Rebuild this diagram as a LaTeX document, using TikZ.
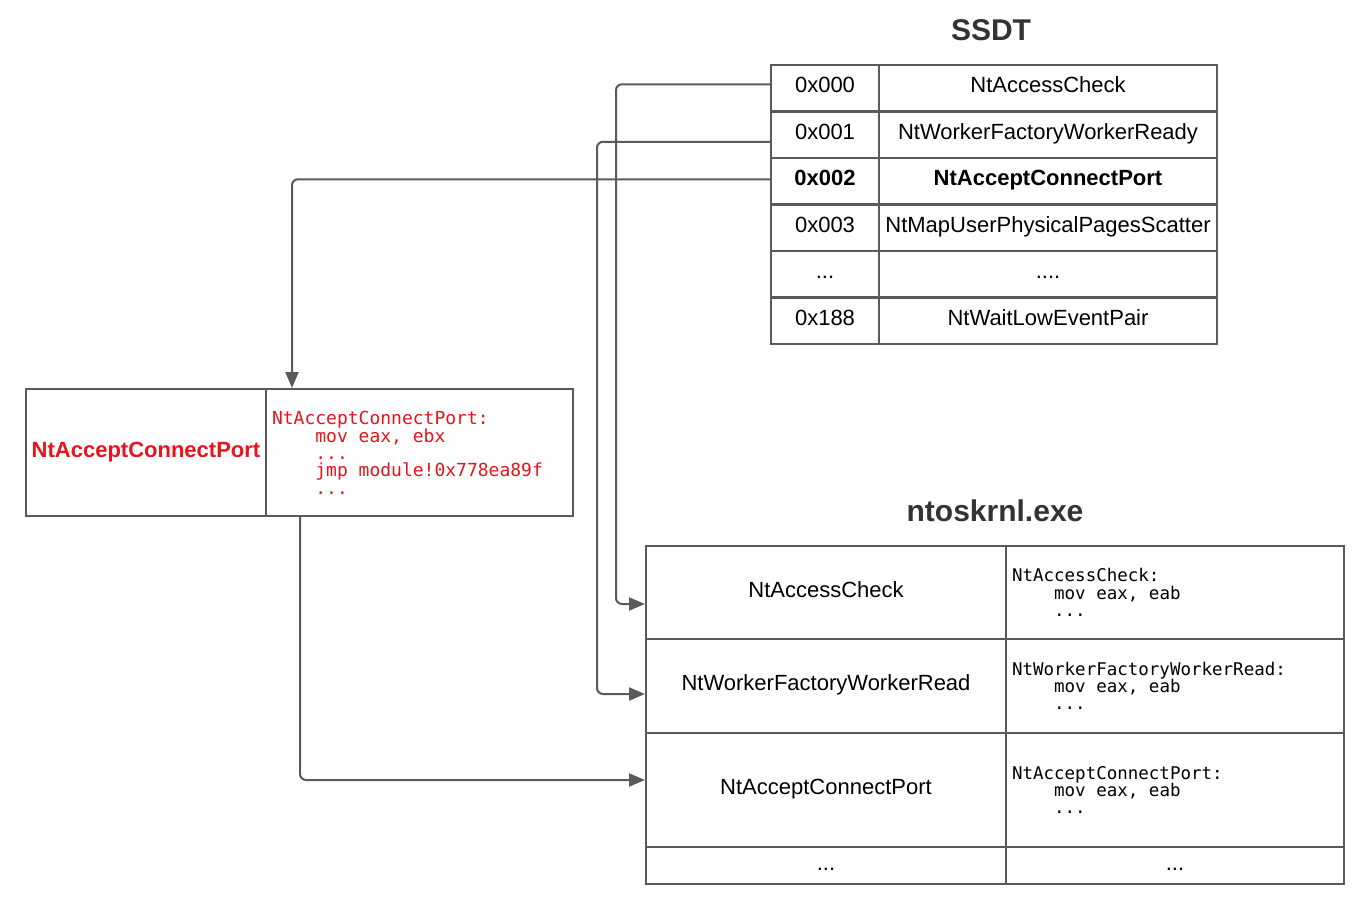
\documentclass[tikz,border=0pt]{standalone}
\usepackage{fontspec}
\setmainfont{Liberation Sans}
\setmonofont{DejaVu Sans Mono}
\usetikzlibrary{arrows.meta,calc}

\definecolor{linegray}{HTML}{5A5A5A}
\definecolor{hookred}{HTML}{E8141B}
\definecolor{titlegray}{HTML}{333333}
\newcommand{\ind}{\hphantom{0000}}
\newcommand{\ws}{\hphantom{0}}
\newcommand{\monofont}[1]{\ttfamily\fontsize{#1}{17.2}\selectfont}

\begin{document}
\begin{tikzpicture}[x=1pt,y=-1pt,
  box/.style={draw=linegray,line width=2.5pt,anchor=north west,inner sep=0pt,outer sep=0pt},
  cell/.style={box,text height=15pt,text depth=6pt,font=\fontsize{22}{26}\selectfont},
  codecell/.style={box,align=left,inner xsep=6pt,text width=#1,font=\monofont{17.5}},
  title/.style={font=\bfseries\fontsize{30}{36}\selectfont,text=titlegray},
  link/.style={draw=linegray,line width=2pt,rounded corners=6pt,
    -{Triangle[length=16pt,width=13pt]}}]

\useasboundingbox (0,0) rectangle (1361,906);

% SSDT
\node[title] (ssdt) at (991,30) {SSDT};

\node[cell,minimum width=108,minimum height=46.5] (s0a) at (771,65) {0x000};
\node[cell,minimum width=338,minimum height=46.5] (s0b) at (879,65) {NtAccessCheck};
\node[cell,minimum width=108,minimum height=46.5] (s1a) at (771,111.5) {0x001};
\node[cell,minimum width=338,minimum height=46.5] (s1b) at (879,111.5) {NtWorkerFactoryWorkerReady};
\node[cell,minimum width=108,minimum height=46.5,font=\bfseries\fontsize{22}{26}\selectfont] (s2a) at (771,158) {0x002};
\node[cell,minimum width=338,minimum height=46.5,font=\bfseries\fontsize{22}{26}\selectfont] (s2b) at (879,158) {NtAcceptConnectPort};
\node[cell,minimum width=108,minimum height=46.5] (s3a) at (771,204.5) {0x003};
\node[cell,minimum width=338,minimum height=46.5] (s3b) at (879,204.5) {NtMapUserPhysicalPagesScatter};
\node[cell,minimum width=108,minimum height=46.5] (s4a) at (771,251) {...};
\node[cell,minimum width=338,minimum height=46.5] (s4b) at (879,251) {....};
\node[cell,minimum width=108,minimum height=46.5] (s5a) at (771,297.5) {0x188};
\node[cell,minimum width=338,minimum height=46.5] (s5b) at (879,297.5) {NtWaitLowEventPair};

% hooked function
\node[cell,minimum width=240,minimum height=127,text=hookred,font=\bfseries\fontsize{22}{26}\selectfont] (rname) at (26,389) {NtAcceptConnectPort};
\node[codecell=295,minimum height=127,text=hookred,font=\monofont{18}] (rcode) at (266,389)
  {NtAcceptConnectPort:\\ \ind mov\ws eax,\ws ebx\\ \ind ...\\ \ind jmp\ws module!0x778ea89f\\ \ind ...};

% ntoskrnl.exe
\node[title] (ntos) at (995,511) {ntoskrnl.exe};

\node[cell,minimum width=360,minimum height=93] (n0a) at (646,546) {NtAccessCheck};
\node[codecell=326,minimum height=93] (n0b) at (1006,546)
  {NtAccessCheck:\\ \ind mov\ws eax,\ws eab\\ \ind ...};
\node[cell,minimum width=360,minimum height=94] (n1a) at (646,639) {NtWorkerFactoryWorkerRead};
\node[codecell=326,minimum height=94] (n1b) at (1006,639)
  {NtWorkerFactoryWorkerRead:\\ \ind mov\ws eax,\ws eab\\ \ind ...};
\node[cell,minimum width=360,minimum height=114] (n2a) at (646,733) {NtAcceptConnectPort};
\node[codecell=326,minimum height=114] (n2b) at (1006,733)
  {NtAcceptConnectPort:\\ \ind mov\ws eax,\ws eab\\ \ind ...};
\node[cell,minimum width=360,minimum height=37] (n3a) at (646,847) {...};
\node[cell,minimum width=338,minimum height=37] (n3b) at (1006,847) {...};

% links
\draw[link] ($(s0a.west)+(0,-4)$) -| ($(n0a.west)+(-30,11.5)$) -- ($(n0a.west)+(-1,11.5)$);
\draw[link] ($(s1a.west)+(0,7)$) -| ($(n1a.west)+(-49,8)$) -- ($(n1a.west)+(-1,8)$);
\draw[link] ($(s2a.west)+(0,-2)$) -| ($(rcode.north west)+(26,-1)$);
\draw[link] ($(rcode.south west)+(34,0)$) |- ($(n2a.west)+(-1,-10)$);

\end{tikzpicture}
\end{document}
